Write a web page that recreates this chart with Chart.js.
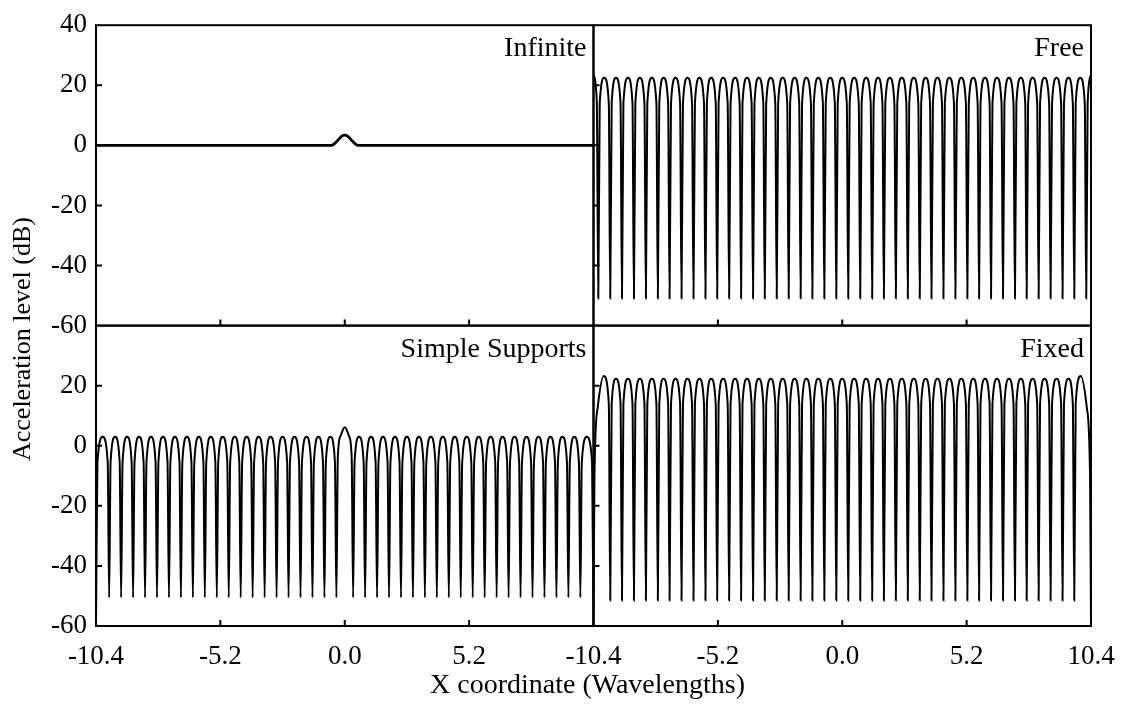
<!DOCTYPE html>
<html>
<head>
<meta charset="utf-8">
<script src="https://cdn.jsdelivr.net/npm/chart.js@4.4.1/dist/chart.umd.min.js"></script>
<style>
  html, body { margin: 0; padding: 0; background: #fff; }
  canvas { display: block; }
</style>
</head>
<body>
<canvas id="chart" width="1123" height="709"></canvas>
<script>
// tick labels and panel names
const xTicks = [-10.4, -5.2, 0, 5.2, 10.4];
const yTicks = [40, 20, 0, -20, -40, -60];
const panelNames = ['Infinite', 'Free', 'Simple Supports', 'Fixed'];

// Infinite beam (top left)
const infiniteX = [-10.40, -0.55, -0.30, -0.12, 0.00, 0.12, 0.30, 0.55, 10.40];
const infiniteY = [0, 0, 1.6, 3.1, 3.4, 3.1, 1.6, 0, 0];

// Free ends (top right): dip, shoulder, peak, shoulder per lobe
const freeX = [
  -10.40, -10.26,
  -10.20, -10.14, -9.95, -9.76,
  -9.70, -9.64, -9.46, -9.27,
  -9.21, -9.15, -8.96, -8.77,
  -8.71, -8.65, -8.46, -8.27,
  -8.21, -8.15, -7.96, -7.77,
  -7.71, -7.65, -7.47, -7.28,
  -7.22, -7.16, -6.97, -6.78,
  -6.72, -6.66, -6.47, -6.28,
  -6.22, -6.16, -5.97, -5.78,
  -5.72, -5.66, -5.48, -5.29,
  -5.23, -5.17, -4.98, -4.79,
  -4.73, -4.67, -4.48, -4.29,
  -4.23, -4.17, -3.98, -3.79,
  -3.73, -3.67, -3.49, -3.30,
  -3.24, -3.18, -2.99, -2.80,
  -2.74, -2.68, -2.49, -2.30,
  -2.24, -2.18, -1.99, -1.80,
  -1.74, -1.68, -1.50, -1.31,
  -1.25, -1.19, -1.00, -0.81,
  -0.75, -0.69, -0.50, -0.31,
  -0.25, -0.19, 0.00, 0.19,
  0.25, 0.31, 0.50, 0.69,
  0.75, 0.81, 1.00, 1.19,
  1.25, 1.31, 1.50, 1.68,
  1.74, 1.80, 1.99, 2.18,
  2.24, 2.30, 2.49, 2.68,
  2.74, 2.80, 2.99, 3.18,
  3.24, 3.30, 3.49, 3.67,
  3.73, 3.79, 3.98, 4.17,
  4.23, 4.29, 4.48, 4.67,
  4.73, 4.79, 4.98, 5.17,
  5.23, 5.29, 5.48, 5.66,
  5.72, 5.78, 5.97, 6.16,
  6.22, 6.28, 6.47, 6.66,
  6.72, 6.78, 6.97, 7.16,
  7.22, 7.28, 7.47, 7.65,
  7.71, 7.77, 7.96, 8.15,
  8.21, 8.27, 8.46, 8.65,
  8.71, 8.77, 8.96, 9.15,
  9.21, 9.27, 9.46, 9.64,
  9.70, 9.76, 9.95, 10.14,
  10.20, 10.26, 10.40
];
const freeY = [
  23.5, 14,
  -51, 14, 22.5, 14,  -51, 14, 22.5, 14,  -51, 14, 22.5, 14,  -51, 14, 22.5, 14,
  -51, 14, 22.5, 14,  -51, 14, 22.5, 14,  -51, 14, 22.5, 14,  -51, 14, 22.5, 14,
  -51, 14, 22.5, 14,  -51, 14, 22.5, 14,  -51, 14, 22.5, 14,  -51, 14, 22.5, 14,
  -51, 14, 22.5, 14,  -51, 14, 22.5, 14,  -51, 14, 22.5, 14,  -51, 14, 22.5, 14,
  -51, 14, 22.5, 14,  -51, 14, 22.5, 14,  -51, 14, 22.5, 14,  -51, 14, 22.5, 14,
  -51, 14, 22.5, 14,
  -51, 14, 22.5, 14,  -51, 14, 22.5, 14,  -51, 14, 22.5, 14,  -51, 14, 22.5, 14,
  -51, 14, 22.5, 14,  -51, 14, 22.5, 14,  -51, 14, 22.5, 14,  -51, 14, 22.5, 14,
  -51, 14, 22.5, 14,  -51, 14, 22.5, 14,  -51, 14, 22.5, 14,  -51, 14, 22.5, 14,
  -51, 14, 22.5, 14,  -51, 14, 22.5, 14,  -51, 14, 22.5, 14,  -51, 14, 22.5, 14,
  -51, 14, 22.5, 14,  -51, 14, 22.5, 14,  -51, 14, 22.5, 14,  -51, 14, 22.5, 14,
  -51, 14, 23.5
];

// Simple supports (bottom left)
const simpleX = [
  -10.40, -10.34, -10.12, -9.91,
  -9.85, -9.79, -9.60, -9.41,
  -9.35, -9.29, -9.10, -8.91,
  -8.85, -8.79, -8.60, -8.41,
  -8.35, -8.29, -8.10, -7.91,
  -7.85, -7.79, -7.60, -7.41,
  -7.35, -7.29, -7.10, -6.91,
  -6.85, -6.79, -6.60, -6.41,
  -6.35, -6.29, -6.10, -5.91,
  -5.85, -5.79, -5.60, -5.41,
  -5.35, -5.29, -5.10, -4.91,
  -4.85, -4.79, -4.60, -4.41,
  -4.35, -4.29, -4.10, -3.91,
  -3.85, -3.79, -3.60, -3.41,
  -3.35, -3.29, -3.10, -2.91,
  -2.85, -2.79, -2.60, -2.41,
  -2.35, -2.29, -2.10, -1.91,
  -1.85, -1.79, -1.60, -1.41,
  -1.35, -1.29, -1.10, -0.91,
  -0.85, -0.79, -0.60, -0.41,
  -0.35, -0.29, -0.18, 0.00, 0.18, 0.29,
  0.35, 0.41, 0.60, 0.79,
  0.85, 0.91, 1.10, 1.29,
  1.35, 1.41, 1.60, 1.79,
  1.85, 1.91, 2.10, 2.29,
  2.35, 2.41, 2.60, 2.79,
  2.85, 2.91, 3.10, 3.29,
  3.35, 3.41, 3.60, 3.79,
  3.85, 3.91, 4.10, 4.29,
  4.35, 4.41, 4.60, 4.79,
  4.85, 4.91, 5.10, 5.29,
  5.35, 5.41, 5.60, 5.79,
  5.85, 5.91, 6.10, 6.29,
  6.35, 6.41, 6.60, 6.79,
  6.85, 6.91, 7.10, 7.29,
  7.35, 7.41, 7.60, 7.79,
  7.85, 7.91, 8.10, 8.29,
  8.35, 8.41, 8.60, 8.79,
  8.85, 8.91, 9.10, 9.29,
  9.35, 9.41, 9.60, 9.79,
  9.85, 9.91, 10.12, 10.34, 10.40
];
const simpleY = [
  -60, -5.5, 3, -5.5,
  -50.5, -5.5, 3, -5.5,  -50.5, -5.5, 3, -5.5,  -50.5, -5.5, 3, -5.5,  -50.5, -5.5, 3, -5.5,
  -50.5, -5.5, 3, -5.5,  -50.5, -5.5, 3, -5.5,  -50.5, -5.5, 3, -5.5,  -50.5, -5.5, 3, -5.5,
  -50.5, -5.5, 3, -5.5,  -50.5, -5.5, 3, -5.5,  -50.5, -5.5, 3, -5.5,  -50.5, -5.5, 3, -5.5,
  -50.5, -5.5, 3, -5.5,  -50.5, -5.5, 3, -5.5,  -50.5, -5.5, 3, -5.5,  -50.5, -5.5, 3, -5.5,
  -50.5, -5.5, 3, -5.5,  -50.5, -5.5, 3, -5.5,  -50.5, -5.5, 3, -5.5,
  -50.5, -4, 3.2, 6.2, 3.2, -4,
  -50.5, -5.5, 3, -5.5,  -50.5, -5.5, 3, -5.5,  -50.5, -5.5, 3, -5.5,  -50.5, -5.5, 3, -5.5,
  -50.5, -5.5, 3, -5.5,  -50.5, -5.5, 3, -5.5,  -50.5, -5.5, 3, -5.5,  -50.5, -5.5, 3, -5.5,
  -50.5, -5.5, 3, -5.5,  -50.5, -5.5, 3, -5.5,  -50.5, -5.5, 3, -5.5,  -50.5, -5.5, 3, -5.5,
  -50.5, -5.5, 3, -5.5,  -50.5, -5.5, 3, -5.5,  -50.5, -5.5, 3, -5.5,  -50.5, -5.5, 3, -5.5,
  -50.5, -5.5, 3, -5.5,  -50.5, -5.5, 3, -5.5,  -50.5, -5.5, 3, -5.5,
  -50.5, -5.5, 3, -5.5, -60
];

// Fixed ends (bottom right)
const fixedX = [
  -10.40, -10.36, -10.22, -9.97, -9.76,
  -9.70, -9.64, -9.46, -9.27,
  -9.21, -9.15, -8.96, -8.77,
  -8.71, -8.65, -8.46, -8.27,
  -8.21, -8.15, -7.96, -7.77,
  -7.71, -7.65, -7.47, -7.28,
  -7.22, -7.16, -6.97, -6.78,
  -6.72, -6.66, -6.47, -6.28,
  -6.22, -6.16, -5.97, -5.78,
  -5.72, -5.66, -5.48, -5.29,
  -5.23, -5.17, -4.98, -4.79,
  -4.73, -4.67, -4.48, -4.29,
  -4.23, -4.17, -3.98, -3.79,
  -3.73, -3.67, -3.49, -3.30,
  -3.24, -3.18, -2.99, -2.80,
  -2.74, -2.68, -2.49, -2.30,
  -2.24, -2.18, -1.99, -1.80,
  -1.74, -1.68, -1.50, -1.31,
  -1.25, -1.19, -1.00, -0.81,
  -0.75, -0.69, -0.50, -0.31,
  -0.25, -0.19, 0.00, 0.19,
  0.25, 0.31, 0.50, 0.69,
  0.75, 0.81, 1.00, 1.19,
  1.25, 1.31, 1.50, 1.68,
  1.74, 1.80, 1.99, 2.18,
  2.24, 2.30, 2.49, 2.68,
  2.74, 2.80, 2.99, 3.18,
  3.24, 3.30, 3.49, 3.67,
  3.73, 3.79, 3.98, 4.17,
  4.23, 4.29, 4.48, 4.67,
  4.73, 4.79, 4.98, 5.17,
  5.23, 5.29, 5.48, 5.66,
  5.72, 5.78, 5.97, 6.16,
  6.22, 6.28, 6.47, 6.66,
  6.72, 6.78, 6.97, 7.16,
  7.22, 7.28, 7.47, 7.65,
  7.71, 7.77, 7.96, 8.15,
  8.21, 8.27, 8.46, 8.65,
  8.71, 8.77, 8.96, 9.15,
  9.21, 9.27, 9.46, 9.64,
  9.70, 9.76, 9.97, 10.22, 10.36, 10.40
];
const fixedY = [
  -60, -10, 13, 23.2, 14,
  -51.5, 14, 22.3, 14,  -51.5, 14, 22.3, 14,  -51.5, 14, 22.3, 14,  -51.5, 14, 22.3, 14,
  -51.5, 14, 22.3, 14,  -51.5, 14, 22.3, 14,  -51.5, 14, 22.3, 14,  -51.5, 14, 22.3, 14,
  -51.5, 14, 22.3, 14,  -51.5, 14, 22.3, 14,  -51.5, 14, 22.3, 14,  -51.5, 14, 22.3, 14,
  -51.5, 14, 22.3, 14,  -51.5, 14, 22.3, 14,  -51.5, 14, 22.3, 14,  -51.5, 14, 22.3, 14,
  -51.5, 14, 22.3, 14,  -51.5, 14, 22.3, 14,  -51.5, 14, 22.3, 14,
  -51.5, 14, 22.3, 14,  -51.5, 14, 22.3, 14,  -51.5, 14, 22.3, 14,  -51.5, 14, 22.3, 14,
  -51.5, 14, 22.3, 14,  -51.5, 14, 22.3, 14,  -51.5, 14, 22.3, 14,  -51.5, 14, 22.3, 14,
  -51.5, 14, 22.3, 14,  -51.5, 14, 22.3, 14,  -51.5, 14, 22.3, 14,  -51.5, 14, 22.3, 14,
  -51.5, 14, 22.3, 14,  -51.5, 14, 22.3, 14,  -51.5, 14, 22.3, 14,  -51.5, 14, 22.3, 14,
  -51.5, 14, 22.3, 14,  -51.5, 14, 22.3, 14,  -51.5, 14, 22.3, 14,  -51.5, 14, 22.3, 14,
  -51.5, 14, 23.2, 13, -10, -60
];

const serif = '"Liberation Serif", "Times New Roman", serif';
const tickFont = { family: serif, size: 27 };

function points(xs, ys) {
  return xs.map((x, i) => ({ x: x, y: ys[i] }));
}

function curve(xs, ys, xAxis, yAxis, width) {
  return {
    data: points(xs, ys),
    xAxisID: xAxis,
    yAxisID: yAxis,
    borderColor: '#000',
    borderWidth: width,
    pointRadius: 0,
    fill: false,
    cubicInterpolationMode: 'monotone'
  };
}

// gap under the axis comes from tickLength (not ticks.padding) so the right edge is not pushed in
function xAxis(ticks, weight) {
  return {
    type: 'linear', position: 'bottom', stack: 'x', weight: weight,
    min: -10.4, max: 10.4,
    grid: { display: false, drawTicks: true, tickLength: 15 },
    border: { display: false },
    afterBuildTicks: s => { s.ticks = ticks.map(v => ({ value: v })); },
    afterFit: s => { s.height = 83; },
    ticks: { autoSkip: false, maxRotation: 0, padding: 0, color: '#000', font: tickFont,
             callback: v => v.toFixed(1) }
  };
}

function yAxis(ticks, weight) {
  return {
    type: 'linear', position: 'left', stack: 'y', weight: weight,
    min: -60, max: 40,
    grid: { display: false, drawTicks: false },
    border: { display: false },
    afterBuildTicks: s => { s.ticks = ticks.map(v => ({ value: v })); },
    afterFit: s => { s.width = 96; },
    ticks: { autoSkip: false, padding: 9, color: '#000', font: tickFont,
             callback: v => String(v) }
  };
}

// frames, inward tick marks, panel names and axis titles
const panelFrame = {
  id: 'panelFrame',
  afterDatasetsDraw(chart) {
    const ctx = chart.ctx;
    const s = chart.scales;
    const panels = [['xL', 'yT'], ['xR', 'yT'], ['xL', 'yB'], ['xR', 'yB']];
    ctx.save();
    ctx.strokeStyle = '#000';
    ctx.fillStyle = '#000';
    ctx.lineWidth = 2;
    panels.forEach((p, i) => {
      const xs = s[p[0]], ys = s[p[1]];
      ctx.strokeRect(xs.left, ys.top, xs.right - xs.left, ys.bottom - ys.top);
      ctx.beginPath();
      yTicks.forEach(v => {
        if (v > -60 && v < 40) {
          const y = ys.getPixelForValue(v);
          ctx.moveTo(xs.left, y);
          ctx.lineTo(xs.left + 6, y);
        }
      });
      xTicks.forEach(v => {
        if (v > -10.4 && v < 10.4) {
          const x = xs.getPixelForValue(v);
          ctx.moveTo(x, ys.bottom);
          ctx.lineTo(x, ys.bottom - 6);
        }
      });
      ctx.stroke();
      ctx.font = '28px ' + serif;
      ctx.textAlign = 'right';
      ctx.textBaseline = 'alphabetic';
      ctx.fillText(panelNames[i], xs.right - 7, ys.top + 31);
    });
    const area = chart.chartArea;
    ctx.font = '28px ' + serif;
    ctx.textAlign = 'center';
    ctx.textBaseline = 'alphabetic';
    ctx.fillText('X coordinate (Wavelengths)', (area.left + area.right) / 2 - 6, 693);
    ctx.translate(23, 339);
    ctx.rotate(-Math.PI / 2);
    ctx.textBaseline = 'middle';
    ctx.font = '26px ' + serif;
    ctx.fillText('Acceleration level (dB)', 0, 0);
    ctx.restore();
  }
};

new Chart(document.getElementById('chart').getContext('2d'), {
  type: 'line',
  data: {
    datasets: [
      curve(infiniteX, infiniteY, 'xL', 'yT', 2.8),
      curve(freeX, freeY, 'xR', 'yT', 2),
      curve(simpleX, simpleY, 'xL', 'yB', 2),
      curve(fixedX, fixedY, 'xR', 'yB', 2)
    ]
  },
  options: {
    responsive: false,
    animation: false,
    layout: { padding: { left: 0, right: 32, top: 25, bottom: 0 } },
    plugins: { legend: { display: false }, tooltip: { enabled: false } },
    scales: {
      xL: xAxis([-10.4, -5.2, 0, 5.2], 1),
      xR: xAxis([-10.4, -5.2, 0, 5.2, 10.4], 2),
      yT: yAxis([40, 20, 0, -20, -40, -60], 2),
      yB: yAxis([20, 0, -20, -40, -60], 1)
    }
  },
  plugins: [panelFrame]
});
</script>
</body>
</html>
